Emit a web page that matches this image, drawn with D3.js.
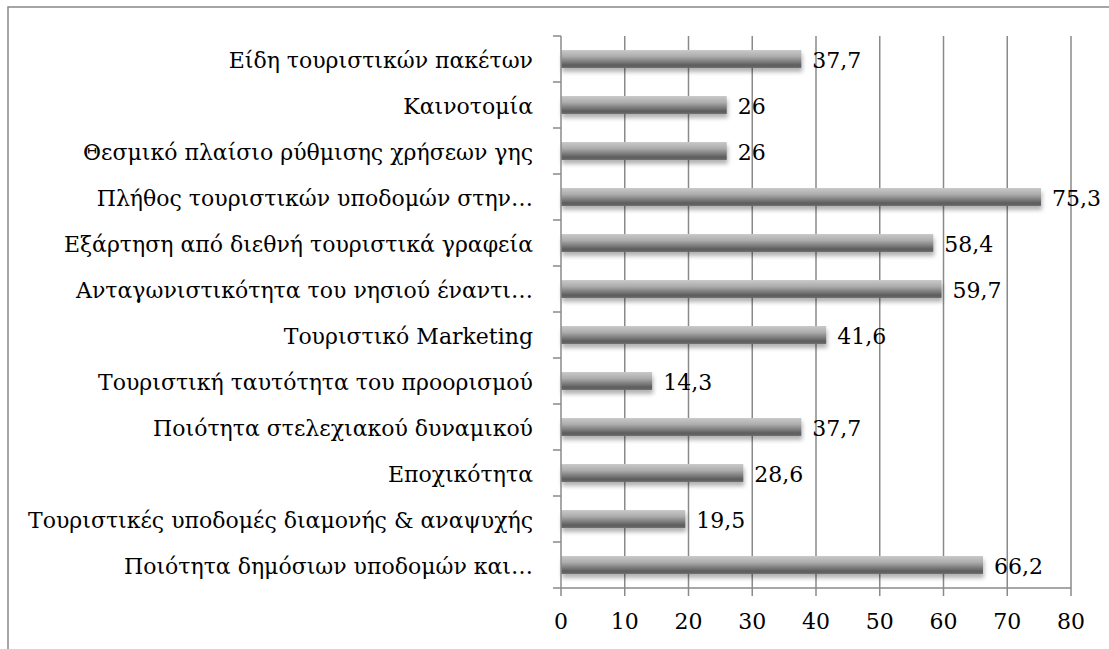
<!DOCTYPE html>
<meta charset="utf-8">
<script src="https://cdn.jsdelivr.net/npm/d3@7"></script>
<style>
body { margin: 0; background: #fff; }
text { font-family: "DejaVu Serif", serif; fill: #000; }
</style>
<body>
<script>

// categories, top to bottom
var categories = [
  "Είδη τουριστικών πακέτων",
  "Καινοτομία",
  "Θεσμικό πλαίσιο ρύθμισης χρήσεων γης",
  "Πλήθος τουριστικών υποδομών στην…",
  "Εξάρτηση από διεθνή τουριστικά γραφεία",
  "Ανταγωνιστικότητα του νησιού έναντι…",
  "Τουριστικό Marketing",
  "Τουριστική ταυτότητα του προορισμού",
  "Ποιότητα στελεχιακού δυναμικού",
  "Εποχικότητα",
  "Τουριστικές υποδομές διαμονής & αναψυχής",
  "Ποιότητα δημόσιων υποδομών και…"
];
var values = [37.7, 26, 26, 75.3, 58.4, 59.7, 41.6, 14.3, 37.7, 28.6, 19.5, 66.2];
var xTicks = [0, 10, 20, 30, 40, 50, 60, 70, 80];

var width = 1109, height = 649;
var plotL = 561, plotR = 1071, plotT = 36, plotB = 588;

var svg = d3.select("body").append("svg")
    .attr("width", width)
    .attr("height", height);

var defs = svg.append("defs");
var grad = defs.append("linearGradient")
    .attr("id", "barGrad")
    .attr("x1", 0).attr("y1", 0).attr("x2", 0).attr("y2", 1);
grad.append("stop").attr("offset", "0%").attr("stop-color", "#c9c9c9");
grad.append("stop").attr("offset", "35%").attr("stop-color", "#adadad");
grad.append("stop").attr("offset", "85%").attr("stop-color", "#5c5c5c");
grad.append("stop").attr("offset", "100%").attr("stop-color", "#6e6e6e");

var shadow = defs.append("filter")
    .attr("id", "shadow")
    .attr("x", "-5%").attr("y", "-50%")
    .attr("width", "110%").attr("height", "200%");
shadow.append("feDropShadow")
    .attr("dx", 1).attr("dy", 4)
    .attr("stdDeviation", 2.2)
    .attr("flood-color", "#000")
    .attr("flood-opacity", 0.3);

// outer border (top and left only visible)
svg.append("path")
    .attr("d", "M8," + height + "V7H" + width)
    .attr("fill", "none")
    .attr("stroke", "#888")
    .attr("stroke-width", 1.5);

var x = d3.scaleLinear().domain([0, 80]).range([plotL, plotR]);
var y = d3.scaleBand().domain(categories).range([plotT, plotB]).paddingInner(0.61).paddingOuter(0.305);

// gridlines
svg.append("g")
  .selectAll("line")
  .data(xTicks.slice(1))
  .enter().append("line")
    .attr("x1", function(d) { return x(d); })
    .attr("x2", function(d) { return x(d); })
    .attr("y1", plotT)
    .attr("y2", plotB)
    .attr("stroke", "#8a8a8a")
    .attr("stroke-width", 1.5);

// bars
svg.append("g")
  .selectAll("rect")
  .data(values)
  .enter().append("rect")
    .attr("x", x(0))
    .attr("y", function(d, i) { return y(categories[i]); })
    .attr("width", function(d) { return x(d) - x(0); })
    .attr("height", y.bandwidth())
    .attr("fill", "url(#barGrad)")
    .attr("filter", "url(#shadow)");

// y axis line + ticks at band boundaries
var step = y.step();
var yAxis = svg.append("g");
yAxis.append("line")
    .attr("x1", plotL).attr("x2", plotL)
    .attr("y1", plotT).attr("y2", plotB)
    .attr("stroke", "#8a8a8a").attr("stroke-width", 1.5);
yAxis.selectAll(".ytick")
  .data(d3.range(categories.length + 1))
  .enter().append("line")
    .attr("class", "ytick")
    .attr("x1", plotL - 8).attr("x2", plotL)
    .attr("y1", function(i) { return plotT + i * step; })
    .attr("y2", function(i) { return plotT + i * step; })
    .attr("stroke", "#8a8a8a").attr("stroke-width", 1.5);

// x axis baseline + ticks
var xAxis = svg.append("g");
xAxis.append("line")
    .attr("x1", plotL).attr("x2", plotR)
    .attr("y1", plotB).attr("y2", plotB)
    .attr("stroke", "#8a8a8a").attr("stroke-width", 1.5);
xAxis.selectAll(".xtick")
  .data(xTicks)
  .enter().append("line")
    .attr("class", "xtick")
    .attr("x1", function(d) { return x(d); })
    .attr("x2", function(d) { return x(d); })
    .attr("y1", plotB).attr("y2", plotB + 8)
    .attr("stroke", "#8a8a8a").attr("stroke-width", 1.5);
xAxis.selectAll("text")
  .data(xTicks)
  .enter().append("text")
    .attr("x", function(d) { return x(d); })
    .attr("y", 629)
    .attr("text-anchor", "middle")
    .style("font-size", "22px")
    .text(function(d) { return d; });

// category labels
svg.append("g")
  .selectAll("text")
  .data(categories)
  .enter().append("text")
    .attr("x", plotL - 28)
    .attr("y", function(d) { return y(d) + y.bandwidth() / 2; })
    .attr("dy", "0.42em")
    .attr("text-anchor", "end")
    .style("font-size", "22px")
    .text(function(d) { return d; });

// value labels
svg.append("g")
  .selectAll("text")
  .data(values)
  .enter().append("text")
    .attr("x", function(d) { return x(d) + 11; })
    .attr("y", function(d, i) { return y(categories[i]) + y.bandwidth() / 2; })
    .attr("dy", "0.42em")
    .style("font-size", "22px")
    .text(function(d) { return String(d).replace(".", ","); });

</script>
</body>
